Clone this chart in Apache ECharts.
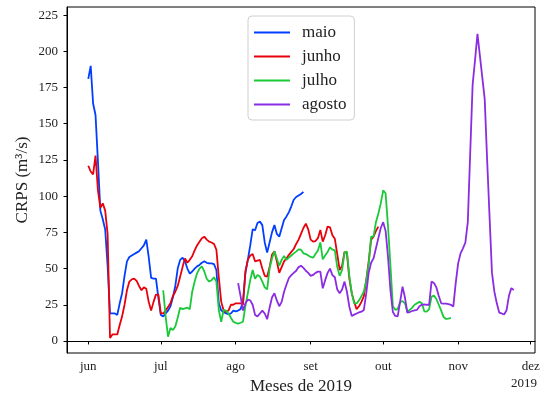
<!DOCTYPE html>
<html>
<head>
<meta charset="utf-8">
<script src="https://cdn.jsdelivr.net/npm/echarts@6/dist/echarts.min.js"></script>
<style>
  html, body { margin: 0; padding: 0; background: #fff; }
  #chart { width: 547px; height: 398px; }
</style>
</head>
<body>
<div id="chart"></div>
<script>
// daily CRPS values; each series starts on its own date
const maioStart = [2019, 6, 1];
const maioValues = [
  181, 190, 164, 156, 124, 90, 84, 77, 52, 19,
  19, 19, 18, 26, 33, 45, 55, 58, 59, 60,
  61, 62, 64, 66, 70, 58, 43.5, 43, 43, 30,
  18, 17, 19, 21, 24, 30, 38, 50, 56, 57.5,
  55, 50, 46.5, 48, 50, 51.5, 52.5, 54, 55, 54,
  53.6, 53.6, 53, 49, 26, 21, 20, 19, 18.5, 19,
  21, 20.5, 21, 22, 27, 47, 56, 66, 77, 76.5,
  81.5, 82.4, 80, 68, 61, 68, 75, 80, 74, 72,
  77.8, 83.6, 86, 89, 93, 97.5, 99.4, 100.5, 101.5, 103
];

const junhoStart = [2019, 6, 1];
const junhoValues = [
  121, 117, 115, 128, 104, 92, 95, 90, 74, 2,
  4.5, 4.5, 4.5, 11, 17, 25, 35, 41, 42.5, 43,
  41.5, 38, 35, 37, 36, 27, 21, 27, 32, 32,
  19, 19, 21, 23.5, 26, 31, 34, 38, 44.4, 51,
  57, 54, 56, 58.5, 62.5, 66, 68.5, 71, 72, 70,
  68.6, 68, 67, 63, 44, 27, 21, 20, 21, 25,
  25, 26, 26, 26, 25, 48, 56, 59, 60, 55,
  55.5, 56, 50, 45, 44.4, 51, 59.5, 62, 55, 47,
  51, 55, 57, 59.5, 61.5, 63.5, 67, 70, 74, 78,
  81, 77, 70, 68.6, 69, 71, 76.7, 68.6, 73, 79,
  78.5, 73, 70.5, 60, 49, 52, 61.5, 60.5, 43, 33,
  27, 22, 24, 27, 31, 42, 55, 70, 72, 76,
  79
];

const julhoStart = [2019, 7, 2];
const julhoValues = [
  35, 17, 3, 9, 7.6, 10, 16, 23, 22, 22.5,
  23, 22, 34, 41, 46.7, 50, 51.5, 48, 43, 41,
  42, 44, 41, 21.4, 13.3, 21.4, 21, 19, 16, 13.3,
  12.5, 12, 12.6, 13.3, 24, 33, 42, 49, 43, 45.5,
  44.5, 41, 37, 35.7, 50, 57, 62, 57, 52, 56,
  58.7, 56, 57.5, 59, 60.5, 61.7, 63.3, 63, 60.5, 60,
  59, 58, 57.5, 60, 62.5, 68, 56.4, 59, 61.5, 64.7,
  63, 62.5, 51, 45, 49, 61, 61.7, 45, 33, 26,
  26, 28, 31, 34, 42, 53, 72, 72, 82, 88,
  95, 104, 102, 79, 52, 24, 21.5, 22, 27, 27.5,
  26, 20, 21.5, 23, 25, 26, 27, 26, 20.5, 20.2,
  22, 30.6, 31.3, 29, 25, 21, 16.5, 15.2, 15.5, 16
];

const agostoStart = [2019, 8, 2];
const agostoValues = [
  40, 31, 21, 26, 28.5, 28, 25, 18, 17, 19,
  21, 19, 15, 23, 30, 33, 28, 24, 27, 34,
  39, 43.5, 45.5, 47, 48.5, 51, 52, 50.5, 48.5, 47,
  45, 45.6, 47, 47.9, 47.9, 36.4, 42, 47, 50, 45.5,
  44, 35.5, 33, 35.5, 41, 34, 23.7, 17.3, 18.2, 19,
  19.7, 20.2, 21.4, 33, 47, 54, 57, 64, 71, 78,
  82, 76, 58, 35, 20, 17.3, 17, 27, 37.5, 30,
  19.5, 20, 20.7, 21.2, 21.5, 24, 25, 25.3, 25, 25,
  41, 40, 37, 31, 26, 25.8, 25.8, 25.5, 25, 23.7,
  40, 53.6, 60.5, 64, 68, 82, 130, 177, 194, 212,
  197, 182, 167, 125, 86, 47, 34, 26, 19.6, 19,
  18.3, 21, 31, 36.5, 35.2
];

const seriesNames = ['maio', 'junho', 'julho', 'agosto'];
const seriesColors = ['#023eff', '#e8000b', '#1ac938', '#8b2be2'];
const monthNames = ['jan', 'fev', 'mar', 'abr', 'mai', 'jun', 'jul', 'ago', 'set', 'out', 'nov', 'dez'];
const tickMonths = [6, 7, 8, 9, 10, 11, 12];
const yTicks = [0, 25, 50, 75, 100, 125, 150, 175, 200, 225];
const yearOffset = '2019';

const DAY = 86400000;
const FONT = 'Liberation Serif';
const LINE_ICON = 'path://M0,0L36,0L36,1.8L0,1.8Z';

function toTime(d) {
  return new Date(d[0], d[1] - 1, d[2]).getTime();
}

function toPairs(start, values) {
  const t0 = toTime(start);
  return values.map((v, i) => [t0 + i * DAY, v]);
}

const allSeries = [
  toPairs(maioStart, maioValues),
  toPairs(junhoStart, junhoValues),
  toPairs(julhoStart, julhoValues),
  toPairs(agostoStart, agostoValues)
];

// matplotlib-like 5% margins around the data span
const xMin = toTime(maioStart) - 8.8 * DAY;
const xMax = toTime([2019, 11, 24]) + 8.8 * DAY;
const monthTicks = tickMonths.map((m) => toTime([2019, m, 1]));

const chart = echarts.init(document.getElementById('chart'));

chart.setOption({
  animation: false,
  textStyle: { fontFamily: FONT },
  grid: {
    left: 67, right: 12, top: 7, bottom: 45,
    outerBoundsMode: 'none',
    containLabel: false,
    show: true, borderColor: '#000', borderWidth: 1
  },
  legend: {
    orient: 'vertical',
    left: 248, top: 16,
    itemWidth: 36, itemHeight: 14, itemGap: 7,
    padding: [8, 8, 7, 6],
    backgroundColor: 'rgba(255,255,255,0.8)',
    borderColor: '#d0d0d0', borderWidth: 1, borderRadius: 4,
    textStyle: { fontFamily: FONT, fontSize: 17, color: '#222', padding: [0, 0, 0, 7] },
    data: seriesNames.map((n) => ({ name: n, icon: LINE_ICON }))
  },
  // year offset under the last tick, right-aligned like matplotlib's concise dates
  graphic: [{
    type: 'text',
    right: 10,
    top: 377,
    style: { text: yearOffset, font: '13px "Liberation Serif"', fill: '#222' }
  }],
  // timestamps on a value axis, so the month ticks can be placed exactly
  xAxis: {
    type: 'value',
    min: xMin, max: xMax,
    name: 'Meses de 2019',
    nameLocation: 'middle',
    nameGap: 25,
    nameMoveOverlap: false,
    nameTextStyle: { fontFamily: FONT, fontSize: 17, color: '#222' },
    axisLine: { lineStyle: { color: '#000', width: 1 } },
    axisTick: { customValues: monthTicks, length: 3.5, lineStyle: { color: '#000' } },
    axisLabel: {
      customValues: monthTicks,
      margin: 7,
      fontFamily: FONT, fontSize: 13, color: '#222',
      formatter: (v) => monthNames[new Date(v).getMonth()]
    },
    splitLine: { show: false }
  },
  yAxis: {
    type: 'value',
    min: -8.3, max: 230.6,
    name: 'CRPS (m³/s)',
    nameLocation: 'middle',
    nameGap: 36,
    nameRotate: 90,
    nameMoveOverlap: false,
    nameTextStyle: { fontFamily: FONT, fontSize: 17, color: '#222' },
    axisLine: { show: true, lineStyle: { color: '#000', width: 1 } },
    axisTick: { show: true, customValues: yTicks, length: 3.5, lineStyle: { color: '#000' } },
    axisLabel: { customValues: yTicks, margin: 9, fontFamily: FONT, fontSize: 13, color: '#222' },
    splitLine: { show: false }
  },
  series: allSeries.map((data, i) => ({
    name: seriesNames[i],
    type: 'line',
    data: data,
    symbol: 'none',
    lineStyle: { width: 1.8, color: seriesColors[i] },
    itemStyle: { color: seriesColors[i] }
  }))
});
</script>
</body>
</html>
